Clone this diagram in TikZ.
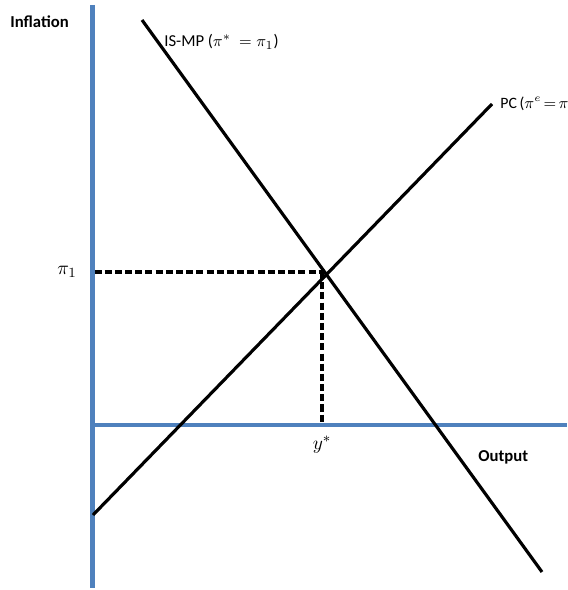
\documentclass[tikz,border=0pt]{standalone}
\usepackage{amsmath,amssymb}
\usepackage{xcolor}
\usepackage{fontspec}
\setmainfont{Carlito}
\usepackage{tikz}
\definecolor{axisblue}{HTML}{4F81BD}
\tikzset{
  axis/.style={draw=axisblue, line width=2.3pt},
  curve/.style={draw=black, line width=1.8pt},
  guide/.style={draw=black, line width=1.9pt, dash pattern=on 4pt off 1.8pt},
  lbl/.style={font=\fontsize{9.5}{11}\selectfont, inner sep=0pt}
}
\begin{document}
\begin{tikzpicture}[x=0.02cm, y=-0.02cm]
          \useasboundingbox (0,0) rectangle (567,590);
          \coordinate (O) at (92.5,425); \coordinate (top) at (92.5,5); \coordinate (bot) at (92.5,588); \coordinate (right) at (567,425);
          \draw[axis] (top) -- (bot); \draw[axis] (92.5,425) -- (right);
          \coordinate (is1) at (142,20); \coordinate (is2) at (542,572);
          \coordinate (pc1) at (93,515); \coordinate (pc2) at (492,104);
          \draw[curve] (is1) -- (is2); \draw[curve] (pc1) -- (pc2);
          \coordinate (E) at (325,272); \coordinate (Ey) at (94.5,272); \coordinate (Ex) at (322,423);
          \draw[guide] (Ey) -- (E); \draw[guide] (322,272) -- (Ex);
          \node[lbl, font=\fontsize{9.5}{11}\selectfont\bfseries, anchor=west] (infl) at (10,22) {Inflation};
          \node[lbl, font=\fontsize{9.5}{11}\selectfont\bfseries, anchor=west] (out) at (478,457) {Output};
          \node[lbl, anchor=west] (ismp) at (164,42) {IS-MP ($\pi^*\ =\pi_1$)};
          \node[lbl, font=\fontsize{9}{11}\selectfont, anchor=west] (pc) at (500,104) {PC\,($\thickmuskip=2.5mu\pi^e=\pi$};
          \node[lbl, font=\fontsize{11}{13}\selectfont] (pi1) at (67,272) {$\pi_1$};
          \node[lbl, font=\fontsize{11}{13}\selectfont] (ystar) at (322,445) {$y^*$};
        \end{tikzpicture}
\end{document}
